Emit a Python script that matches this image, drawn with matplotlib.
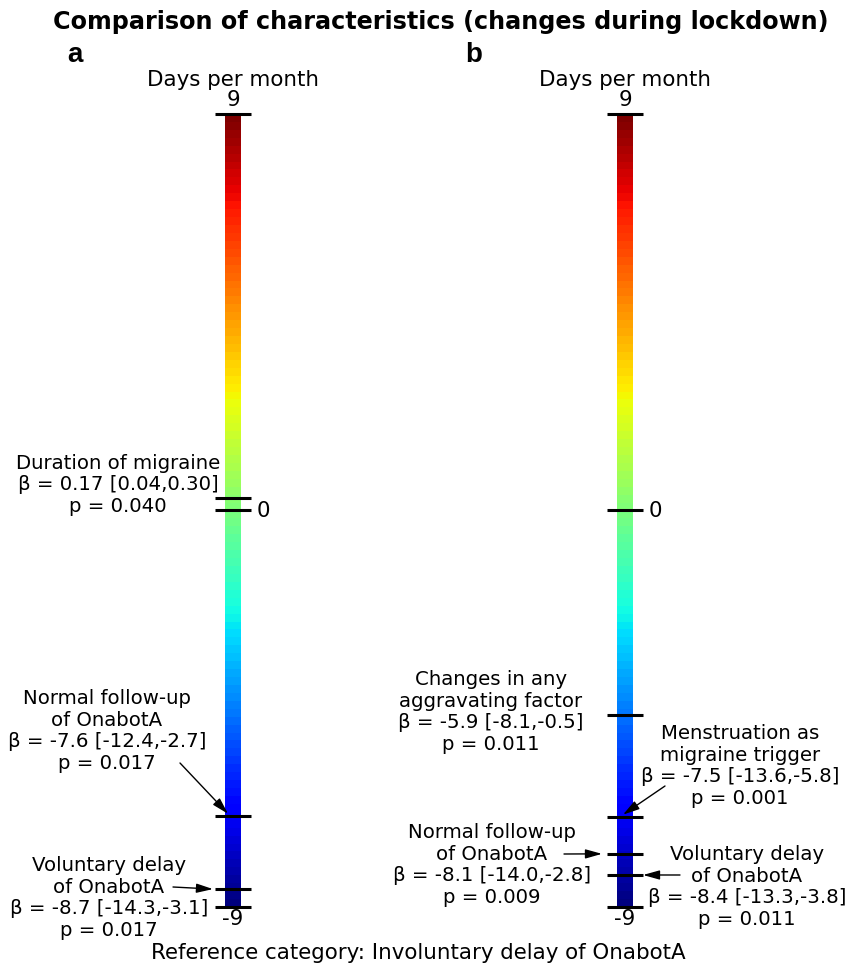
import numpy as np
import matplotlib
matplotlib.use("Agg")
import matplotlib.pyplot as plt

# value range of both colour bars (days per month)
VMIN, VMAX = -9, 9
TICK_LABELS = ["9", "0", "-9"]

# panel a: positions of marks on the scale and labels
A_MARKS = [0.27, -6.94, -8.60]
A_LABELS = [
    "Duration of migraine\nβ = 0.17 [0.04,0.30]\np = 0.040",
    "Normal follow-up\nof OnabotA\nβ = -7.6 [-12.4,-2.7]\np = 0.017",
    "Voluntary delay\nof OnabotA\nβ = -8.7 [-14.3,-3.1]\np = 0.017",
]

# panel b
B_MARKS = [-4.65, -6.96, -7.80, -8.28]
B_LABELS = [
    "Changes in any\naggravating factor\nβ = -5.9 [-8.1,-0.5]\np = 0.011",
    "Menstruation as\nmigraine trigger\nβ = -7.5 [-13.6,-5.8]\np = 0.001",
    "Normal follow-up\nof OnabotA\nβ = -8.1 [-14.0,-2.8]\np = 0.009",
    "Voluntary delay\nof OnabotA\nβ = -8.4 [-13.3,-3.8]\np = 0.011",
]

W, H = 858, 965
TOP_PX, BOT_PX = 114.0, 906.7
PX_PER_UNIT = (BOT_PX - TOP_PX) / (VMAX - VMIN)


def py(ypix):
    # pixel row (from top) -> scale units
    return VMAX - (ypix - TOP_PX) / PX_PER_UNIT


fig = plt.figure(figsize=(W / 100, H / 100), dpi=100)
ax = fig.add_axes([0, 0, 1, 1])
ax.set_xlim(0, W)
ax.set_ylim(py(H), py(0))
ax.axis("off")

FS = 14.2
FS_HEAD = 15.4
grad = np.linspace(VMAX, VMIN, 100).reshape(-1, 1)


def panel(xc, marks, labels, layout):
    ax.imshow(grad, cmap="jet", vmin=VMIN, vmax=VMAX, aspect="auto",
              extent=[xc - 8, xc + 8, VMIN, VMAX], interpolation="nearest", zorder=1)
    ax.hlines([VMAX, 0, VMIN] + marks, xc - 18, xc + 18, color="black", lw=2.2, zorder=3)
    ax.text(xc, py(80), "Days per month", ha="center", va="center", fontsize=FS_HEAD)
    ax.text(xc, py(100), TICK_LABELS[0], ha="center", va="center", fontsize=FS_HEAD)
    ax.text(xc + 30, py(511), TICK_LABELS[1], ha="center", va="center", fontsize=FS_HEAD)
    ax.text(xc, py(919), TICK_LABELS[2], ha="center", va="center", fontsize=FS_HEAD)
    for m, lab, (tx, ty, arrow) in zip(marks, labels, layout):
        ax.text(tx, py(ty), lab, ha="center", va="center", fontsize=FS, linespacing=1.16)
        if arrow is not None:
            (x0, y0), (x1, dy) = arrow
            ax.annotate("", xy=(x1, m + dy), xytext=(x0, py(y0)),
                        arrowprops=dict(arrowstyle="-|>,head_length=1.0,head_width=0.28",
                                        color="black", lw=1.0, shrinkA=0, shrinkB=0),
                        zorder=4)


panel(233, A_MARKS, A_LABELS, [
    (118, 485, None),
    (107, 731, ((180, 763), (228, 0.05))),
    (109, 898, ((173, 887), (213, 0.0))),
])
panel(625, B_MARKS, B_LABELS, [
    (491, 712, None),
    (740, 766, ((665, 786), (623, 0.05))),
    (492, 865, ((564, 854), (602, 0.0))),
    (747, 887, ((680, 875), (643, 0.0))),
])

ax.text(441, py(22), "Comparison of characteristics (changes during lockdown)",
        ha="center", va="center", fontsize=17.2, fontweight="bold")
ax.text(75, py(55), "a", ha="center", va="center", fontsize=20, fontweight="bold",
        family=["Liberation Sans", "DejaVu Sans"])
ax.text(474, py(55), "b", ha="center", va="center", fontsize=20, fontweight="bold",
        family=["Liberation Sans", "DejaVu Sans"])
ax.text(418, py(953), "Reference category: Involuntary delay of OnabotA",
        ha="center", va="center", fontsize=FS_HEAD)

fig.savefig("out.png", dpi=100)
